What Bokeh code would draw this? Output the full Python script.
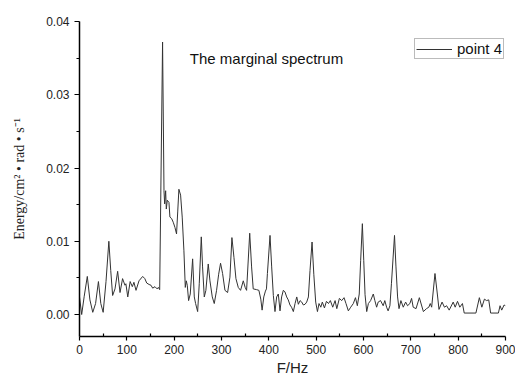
from bokeh.plotting import figure
from bokeh.models import (Range1d, FixedTicker, NumeralTickFormatter, Legend,
                          LegendItem, Label)
from bokeh.embed import file_html
from bokeh.resources import INLINE

# ---- data ----
freq = [0, 4.6, 10, 16.5, 22, 28, 34, 40, 45, 50, 56, 62, 66, 70, 75, 80.6, 85.6,
        91, 96, 98, 102, 107, 111.6, 115, 119.4, 125.7, 133.5, 138, 142, 147, 151,
        154.6, 159.5, 164, 166.6, 169.4, 175.5, 178.5, 179.9, 182, 183.4, 185.5,
        189, 191, 194.6, 198, 201.6, 205, 207.5, 210, 213.6, 217, 220.6, 223.5,
        225.6, 227.7, 230.5, 234, 239, 242.5, 245.3, 249.6, 253, 257.3, 260,
        263.6, 267, 272, 275.6, 280.5, 284.7, 289.6, 294, 298, 302.3, 307.3,
        312.9, 317.8, 322, 326.3, 330.5, 335.4, 340.3, 346, 350, 353, 359.6,
        363.6, 367, 374, 379, 383, 385.8, 389.3, 392.8, 395, 397, 402.5, 406,
        409.5, 413, 416.5, 420, 423.6, 427, 430.6, 434, 437.7, 441, 444.7, 448,
        451.8, 455.4, 459, 462.4, 466, 469.5, 473, 476.5, 480, 483.6, 487, 491.3,
        495, 499, 502.7, 506, 509.8, 513, 517.5, 521.7, 526, 530, 535, 540,
        543.6, 549, 554, 558.9, 563, 568, 573, 578.5, 583, 587, 591, 594, 597.6,
        600.5, 603.3, 606.8, 610.3, 615, 620.7, 624, 627.7, 631, 636, 641.6, 645,
        648.8, 652, 655.8, 659, 665.5, 668.6, 672, 675, 679, 684, 689, 693, 698,
        701.6, 705, 711, 718, 726.5, 733, 738, 741, 744, 751, 756, 759.5, 766,
        771, 775.6, 781, 789.5, 793.7, 798.6, 803.5, 809, 812.8, 837.5, 844.8,
        850, 855.5, 860, 864.6, 868.6, 885, 888.5, 892, 897, 900]
energy = [0.0024, 0.0000, 0.0025, 0.0052, 0.0020, 0.0003, 0.0015, 0.0045, 0.0015,
          0.0003, 0.0045, 0.0100, 0.0060, 0.0026, 0.0035, 0.0059, 0.0030, 0.0049,
          0.0040, 0.0042, 0.0024, 0.0045, 0.0038, 0.0044, 0.0033, 0.0046, 0.0052,
          0.0049, 0.0043, 0.0041, 0.0040, 0.0036, 0.0038, 0.0035, 0.0037, 0.0034,
          0.0372, 0.0169, 0.0151, 0.0169, 0.0144, 0.0156, 0.0153, 0.0133, 0.0131,
          0.0126, 0.0119, 0.0110, 0.0140, 0.0171, 0.0163, 0.0133, 0.0087, 0.0037,
          0.0046, 0.0040, 0.0019, 0.0028, 0.0076, 0.0024, 0.0015, 0.0004, 0.0042,
          0.0106, 0.0065, 0.0024, 0.0033, 0.0069, 0.0046, 0.0024, 0.0015, 0.0033,
          0.0055, 0.0070, 0.0056, 0.0033, 0.0030, 0.0051, 0.0105, 0.0078, 0.0049,
          0.0037, 0.0033, 0.0046, 0.0037, 0.0033, 0.0111, 0.0065, 0.0035, 0.0034,
          0.0033, 0.0021, 0.0006, 0.0024, 0.0032, 0.0035, 0.0056, 0.0108, 0.0065,
          0.0026, 0.0004, 0.0024, 0.0028, 0.0005, 0.0024, 0.0033, 0.0031, 0.0024,
          0.0020, 0.0013, 0.0010, 0.0004, 0.0015, 0.0024, 0.0014, 0.0019, 0.0017,
          0.0013, 0.0014, 0.0017, 0.0024, 0.0060, 0.0099, 0.0055, 0.0017, 0.0004,
          0.0015, 0.0010, 0.0017, 0.0009, 0.0018, 0.0015, 0.0019, 0.0010, 0.0019,
          0.0008, 0.0022, 0.0019, 0.0023, 0.0015, 0.0005, 0.0010, 0.0015, 0.0023,
          0.0012, 0.0028, 0.0074, 0.0124, 0.0074, 0.0027, 0.0004, 0.0015, 0.0019,
          0.0028, 0.0019, 0.0010, 0.0017, 0.0019, 0.0012, 0.0019, 0.0010, 0.0005,
          0.0012, 0.0042, 0.0108, 0.0065, 0.0024, 0.0008, 0.0019, 0.0010, 0.0017,
          0.0012, 0.0015, 0.0022, 0.0010, 0.0008, 0.0023, 0.0004, 0.0008, 0.0010,
          0.0015, 0.0010, 0.0056, 0.0028, 0.0007, 0.0017, 0.0010, 0.0012, 0.0006,
          0.0017, 0.0010, 0.0018, 0.0010, 0.0015, 0.0002, 0.0002, 0.0023, 0.0010,
          0.0021, 0.0019, 0.0020, 0.0002, 0.0002, 0.0012, 0.0006, 0.0013, 0.0012]

x_ticks = [0, 100, 200, 300, 400, 500, 600, 700, 800, 900]
x_minor_ticks = [50, 150, 250, 350, 450, 550, 650, 750, 850]
y_ticks = [0.00, 0.01, 0.02, 0.03, 0.04]
y_minor_ticks = [0.005, 0.015, 0.025, 0.035]

series_name = "point 4"
title_text = "The marginal spectrum"
x_label = "F/Hz"
y_label = "Energy/cm\u00b2 \u2022 rad \u2022 s\u207b\u00b9"

SANS = "Liberation Sans"
SERIF = "Liberation Serif"

p = figure(width=515, height=381, x_range=Range1d(0, 900), y_range=Range1d(-0.003, 0.04),
           output_backend="svg", toolbar_location=None,
           min_border_left=79, min_border_right=10, min_border_top=21, min_border_bottom=45)
p.outline_line_color = None
p.xgrid.visible = False
p.ygrid.visible = False
p.background_fill_color = "white"
p.border_fill_color = "white"

r = p.line(freq, energy, line_color="#333333", line_width=1)

# axes
for ax in (p.xaxis[0], p.yaxis[0]):
    ax.axis_line_color = "black"
    ax.axis_line_width = 1.5
    ax.major_tick_line_color = "black"
    ax.minor_tick_line_color = "black"
    ax.major_tick_line_width = 1.2
    ax.minor_tick_line_width = 1.2
    ax.major_label_text_font = SANS
    ax.major_label_text_font_size = "12px"
    ax.major_label_text_color = "#222222"

xa = p.xaxis[0]
xa.ticker = FixedTicker(ticks=x_ticks, minor_ticks=x_minor_ticks)
xa.major_tick_out = 4
xa.major_tick_in = 0
xa.minor_tick_out = 0
xa.minor_tick_in = 3
xa.major_label_standoff = 4
xa.axis_label = x_label
xa.axis_label_text_font = SANS
xa.axis_label_text_font_size = "15px"
xa.axis_label_text_font_style = "normal"
xa.axis_label_text_color = "#222222"
xa.axis_label_standoff = 2

ya = p.yaxis[0]
ya.ticker = FixedTicker(ticks=y_ticks, minor_ticks=y_minor_ticks)
ya.formatter = NumeralTickFormatter(format="0.00")
ya.major_tick_out = 5
ya.major_tick_in = 0
ya.minor_tick_out = 3
ya.minor_tick_in = 0
ya.major_label_standoff = 5
ya.axis_label = y_label
ya.axis_label_text_font = SERIF
ya.axis_label_text_font_size = "14px"
ya.axis_label_text_font_style = "normal"
ya.axis_label_text_color = "#222222"
ya.axis_label_standoff = 16

# in-plot title
p.add_layout(Label(x=233, y=0.0349, text=title_text, text_font=SANS, text_font_size="15px",
                   text_color="#111111", text_baseline="alphabetic"))

legend = Legend(items=[LegendItem(label=series_name, renderers=[r])],
                location=(335, 277), orientation="vertical")
legend.label_text_font = SANS
legend.label_text_font_size = "15px"
legend.label_text_color = "#111111"
legend.glyph_width = 36
legend.glyph_height = 10
legend.label_height = 10
legend.label_standoff = 5
legend.padding = 1
legend.margin = 0
legend.spacing = 0
legend.border_line_color = "#777777"
legend.border_line_width = 1
legend.background_fill_color = "white"
legend.background_fill_alpha = 1
p.add_layout(legend)

open("out.html", "w").write(file_html(p, INLINE))
